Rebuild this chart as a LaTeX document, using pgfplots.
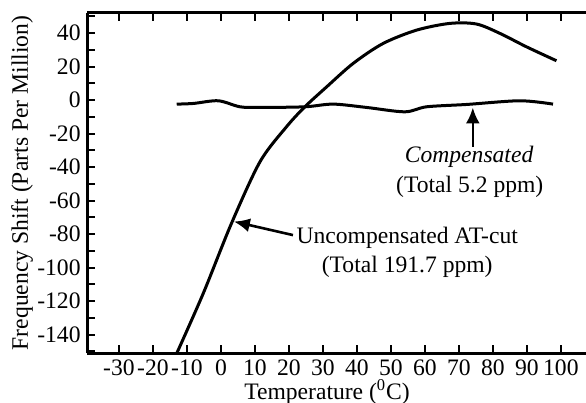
\documentclass[border=0pt]{standalone}
\usepackage{fontspec}
\setmainfont{Liberation Serif}
\usepackage{pgfplots}
\pgfplotsset{compat=1.18}
\usetikzlibrary{arrows.meta,calc}
\begin{document}
\fontsize{11.8}{14}\selectfont
\begin{tikzpicture}
\begin{axis}[
  scale only axis,
  width=249.5pt, height=170pt,
  xmin=-39.4, xmax=107.4,
  ymin=-151, ymax=52,
  axis x line=box, axis y line=left,
  axis line style={-, line width=1.5pt},
  xtick={-30,-20,...,100},
  xticklabels={-30,-20,-10,0,10,20,30,40,50,60,70,80,90,100},
  ytick={-140,-120,...,40},
  yticklabels={-140,-120,-100,-80,-60,-40,-20,0,20,40},
  minor ytick={-150,-130,...,50},
  tick align=inside,
  major tick length=4pt, minor tick length=4pt,
  tick style={line width=1pt, black},
  xticklabel style={inner sep=1pt, yshift=-2pt},
  yticklabel style={inner sep=1pt, xshift=-2pt},
  xlabel={Temperature (\textsuperscript{0}C)},
  ylabel={Frequency Shift (Parts Per Million)},
  xlabel style={at={(axis description cs:0.481,-0.115)}, anchor=center},
  ylabel style={at={(axis description cs:-0.130,0.5)}, anchor=center},
  clip=false,
]
% uncompensated AT-cut
\addplot[black, line width=1.5pt, smooth] coordinates {
  (-13.0,-151.2) (-5.2,-115.4) (3.1,-73.6) (11.5,-36.8) (19.3,-15.9)
  (24.7,-4.0) (31.1,7.9) (38.9,21.9) (47.7,33.8) (57.6,41.8)
  (67.4,45.8) (75.2,45.4) (82.1,39.8) (89.9,31.8) (98.7,23.5)
};
% compensated
\addplot[black, line width=1.5pt, smooth] coordinates {
  (-13,-2.4) (-8.1,-2.0) (-0.8,-0.4) (5.6,-4.0) (11.5,-4.4) (24.7,-4.0)
  (33,-2.4) (42.9,-4.4) (54.1,-7.0) (60.5,-4.0) (72.3,-2.6) (87.9,-0.4)
  (97.7,-2.4)
};
\draw[line width=1.3pt, -{Latex[length=8pt,width=7pt]}] (axis cs:74.1,-28) -- (axis cs:74.1,-4.4);
\node[font=\itshape] at (axis cs:73,-34) {Compensated};
\node at (axis cs:73.2,-52) {(Total 5.2 ppm)};
\draw[line width=1.3pt, -{Latex[length=8pt,width=7pt]}] (axis cs:21.2,-80.6) -- (axis cs:3.8,-72.5);
\node at (axis cs:54.8,-82.4) {Uncompensated AT-cut};
\node at (axis cs:54.8,-99.7) {(Total 191.7 ppm)};
\end{axis}
\pgfresetboundingbox
\path ($(current axis.south west)+(-43.5pt,-24.5pt)$) rectangle ($(current axis.north east)+(0pt,6.5pt)$);
\end{tikzpicture}
\end{document}
